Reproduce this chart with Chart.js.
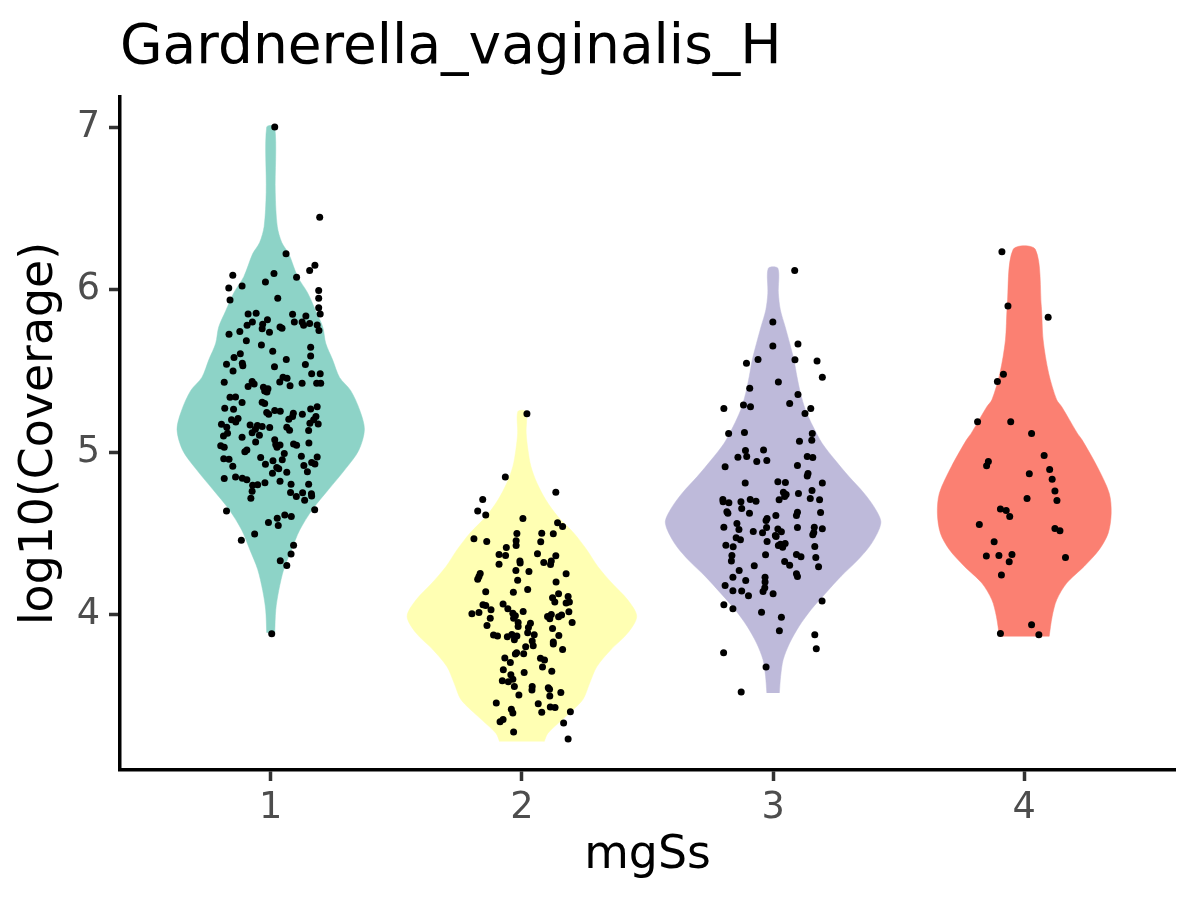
<!DOCTYPE html>
<html>
<head>
<meta charset="utf-8">
<script src="https://cdn.jsdelivr.net/npm/chart.js@4.4.1/dist/chart.umd.min.js"></script>
<style>
  html, body { margin: 0; padding: 0; background: #fff; }
  #wrap { width: 1200px; height: 900px; }
</style>
</head>
<body>
<div id="wrap"><canvas id="chart" width="1200" height="900"></canvas></div>
<script>
// chart text
const chartTitle = 'Gardnerella_vaginalis_H';
const xTitle = 'mgSs';
const yTitle = 'log10(Coverage)';
const groups = [1, 2, 3, 4];
const xTicks = [1, 2, 3, 4];
const yTicks = [4, 5, 6, 7];
const fillColors = ['#8DD3C7', '#FFFFB3', '#BEBADA', '#FB8072'];

// violin outlines: level on y, half width in x units
const v1Y = [3.89, 4.03, 4.15, 4.28, 4.40, 4.52, 4.65, 4.77, 4.89, 5.01, 5.14, 5.26, 5.38, 5.46, 5.57, 5.67, 5.77, 5.87, 5.98, 6.08, 6.22, 6.29, 6.39, 6.60, 7.00];
const v1W = [0.016, 0.020, 0.032, 0.052, 0.083, 0.115, 0.167, 0.230, 0.294, 0.350, 0.373, 0.354, 0.318, 0.274, 0.246, 0.219, 0.207, 0.179, 0.147, 0.107, 0.072, 0.044, 0.026, 0.018, 0.016];

const v2Y = [3.22, 3.27, 3.375, 3.477, 3.58, 3.68, 3.785, 3.887, 3.99, 4.092, 4.195, 4.297, 4.40, 4.502, 4.604, 4.707, 4.81, 4.912, 5.015, 5.117, 5.25];
const v2W = [0.089, 0.103, 0.175, 0.242, 0.270, 0.298, 0.354, 0.421, 0.457, 0.421, 0.358, 0.302, 0.258, 0.207, 0.143, 0.095, 0.060, 0.036, 0.024, 0.017, 0.016];

const v3Y = [3.519, 3.621, 3.723, 3.826, 3.928, 4.031, 4.133, 4.236, 4.338, 4.441, 4.564, 4.646, 4.748, 4.85, 4.953, 5.055, 5.158, 5.26, 5.363, 5.465, 5.567, 5.67, 5.772, 5.875, 5.978, 6.131];
const v3W = [0.025, 0.030, 0.040, 0.066, 0.103, 0.151, 0.209, 0.270, 0.338, 0.393, 0.429, 0.409, 0.362, 0.302, 0.246, 0.195, 0.159, 0.129, 0.109, 0.095, 0.083, 0.066, 0.048, 0.029, 0.021, 0.019];

const v4Y = [3.867, 3.99, 4.092, 4.195, 4.297, 4.40, 4.502, 4.625, 4.748, 4.912, 5.076, 5.117, 5.28, 5.322, 5.486, 5.69, 5.895, 6.248];
const v4W = [0.099, 0.111, 0.129, 0.169, 0.238, 0.298, 0.334, 0.346, 0.338, 0.290, 0.230, 0.211, 0.149, 0.129, 0.097, 0.075, 0.068, 0.044];

// jittered samples: offset from group centre and log10 coverage
const p1Dx = [0.016, 0.195, 0.061, 0.176, 0.155, -0.151, 0.013, -0.167, -0.114, -0.021, 0.103, 0.191, 0.191, -0.162, 0.028, 0.191, 0.197, -0.090, -0.058, 0.087, 0.140, 0.094, -0.073, -0.013, -0.094, -0.032, -0.034, 0.131, 0.125, 0.155, 0.185, 0.192, -0.123, -0.166, -0.005, 0.037, 0.045, -0.097, -0.037, 0.159, 0.008, 0.159, -0.146, -0.121, -0.113, -0.111, -0.176, 0.062, 0.015, 0.138,
  -0.150, 0.163, 0.197, 0.049, 0.065, -0.185, -0.074, -0.066, -0.090, -0.029, -0.011, -0.024, -0.015, 0.036, 0.077, 0.125, 0.183, 0.199,
  -0.162, -0.140, -0.114, -0.034, -0.024, -0.183, -0.148, -0.016, 0.016, 0.038, -0.008, 0.090, 0.126, 0.159, 0.185, 0.087, 0.072, 0.180, 0.171, 0.156, 0.189,
  -0.156, -0.139, -0.130, -0.196, -0.175, -0.188, -0.172, -0.082, -0.053, -0.061, -0.074, -0.045, -0.034, -0.004, 0.064, 0.075, 0.151, -0.114, -0.060, -0.199, -0.185, 0.016, 0.020, 0.037, 0.025, 0.091, 0.103, 0.152,
  -0.095, -0.103, -0.040, -0.021, 0.009, 0.046, 0.054, 0.122, 0.185, -0.187, -0.166, -0.151, 0.024, 0.032, 0.064, 0.007, 0.132, 0.163, 0.176, 0.146,
  -0.185, -0.140, -0.113, -0.095, -0.072, -0.052, -0.023, 0.037, 0.081, 0.151, -0.074, -0.079, 0.079, 0.102, 0.127, 0.162, 0.163, 0.135,
  -0.176, 0.175, 0.026, 0.056, 0.082, -0.009, 0.030, -0.064, -0.117, 0.091, 0.081, 0.038, 0.064, 0.004];
const p1Y = [7.000, 6.445, 6.221, 6.150, 6.117, 6.088, 6.100, 6.010, 6.023, 6.047, 6.076, 5.994, 5.947, 5.936, 5.947, 5.889, 5.850, 5.850, 5.855, 5.848, 5.838, 5.801, 5.801, 5.814, 5.781, 5.787, 5.760, 5.781, 5.801, 5.791, 5.783, 5.748, 5.742, 5.725, 5.738, 5.770, 5.762, 5.686, 5.660, 5.646, 5.621, 5.592, 5.582, 5.605, 5.547, 5.531, 5.541, 5.570, 5.525, 5.539,
  5.500, 5.482, 5.482, 5.461, 5.455, 5.430, 5.435, 5.420, 5.404, 5.400, 5.391, 5.377, 5.371, 5.432, 5.408, 5.424, 5.424, 5.424,
  5.338, 5.340, 5.305, 5.307, 5.299, 5.271, 5.264, 5.244, 5.256, 5.252, 5.234, 5.240, 5.234, 5.266, 5.279, 5.219, 5.203, 5.219, 5.199, 5.178, 5.174,
  5.199, 5.186, 5.207, 5.172, 5.154, 5.100, 5.117, 5.168, 5.164, 5.141, 5.119, 5.105, 5.158, 5.152, 5.154, 5.135, 5.133, 5.092, 5.062, 5.039, 5.031, 5.076, 5.047, 5.045, 5.031, 5.051, 5.043, 5.057,
  5.014, 5.002, 4.967, 4.926, 4.947, 4.953, 4.992, 4.975, 4.971, 4.959, 4.957, 4.914, 4.906, 4.898, 4.877, 4.871, 4.918, 4.937, 4.928, 4.879,
  4.838, 4.848, 4.840, 4.830, 4.797, 4.799, 4.812, 4.822, 4.803, 4.803, 4.760, 4.717, 4.752, 4.728, 4.750, 4.744, 4.730, 4.705,
  4.639, 4.646, 4.594, 4.613, 4.605, 4.568, 4.549, 4.496, 4.459, 4.428, 4.373, 4.332, 4.303, 3.883];

const p2Dx = [0.020, -0.066, 0.135, -0.156, -0.176, -0.144, 0.004, 0.142, 0.162, -0.191, -0.140, -0.020, 0.079, 0.125, -0.023, 0.075, -0.023, -0.062, -0.091, -0.065, 0.062, 0.135, -0.008, -0.007, 0.087, 0.117, 0.114, -0.091, -0.024, 0.028, 0.176, -0.166, -0.171, -0.176, -0.017, 0.136, 0.023, -0.034, -0.144, 0.146, 0.122, 0.184, 0.131, 0.176, 0.189, -0.155, -0.144, -0.075, -0.056, -0.123, -0.199, -0.171, -0.036, -0.026, 0.005, -0.033, 0.187, 0.117, 0.102, 0.111, 0.158, 0.146, -0.126, -0.139, -0.015, -0.015, 0.034, 0.026, 0.122, 0.200, -0.113, -0.097, -0.058, -0.040, -0.020, -0.030, 0.023, 0.049, 0.041, 0.045, 0.147, 0.125, 0.125, 0.015, -0.021, -0.026, 0.007, 0.162, -0.068, -0.046, 0.074, 0.090, 0.082, -0.074, -0.044, -0.036, -0.078, -0.054, 0.119, 0.009, -0.030, 0.041, 0.040, 0.105, 0.110, 0.111, 0.155, -0.012, -0.102, 0.065, -0.042, -0.036, 0.079, 0.113, 0.132, 0.193, -0.075, -0.087, -0.033, 0.166, 0.184];
const p2Y = [5.236, 4.848, 4.754, 4.709, 4.639, 4.613, 4.592, 4.566, 4.543, 4.467, 4.451, 4.500, 4.502, 4.498, 4.455, 4.449, 4.426, 4.414, 4.371, 4.365, 4.375, 4.363, 4.330, 4.318, 4.322, 4.330, 4.309, 4.311, 4.273, 4.266, 4.252, 4.254, 4.236, 4.219, 4.213, 4.201, 4.156, 4.139, 4.141, 4.129, 4.104, 4.113, 4.078, 4.072, 4.078, 4.061, 4.057, 4.066, 4.037, 4.031, 4.006, 4.014, 4.010, 3.994, 4.020, 3.979, 4.018, 4.002, 3.990, 3.975, 3.999, 3.988, 3.979, 3.934, 3.953, 3.928, 3.947, 3.922, 3.916, 3.953, 3.875, 3.869, 3.865, 3.879, 3.869, 3.846, 3.889, 3.877, 3.838, 3.809, 3.873, 3.832, 3.820, 3.803, 3.766, 3.758, 3.760, 3.787, 3.734, 3.707, 3.732, 3.721, 3.678, 3.662, 3.631, 3.604, 3.594, 3.588, 3.652, 3.645, 3.559, 3.559, 3.537, 3.551, 3.541, 3.500, 3.522, 3.506, 3.457, 3.453, 3.418, 3.395, 3.400, 3.432, 3.430, 3.404, 3.355, 3.342, 3.279, 3.334, 3.236];

const p3Dx = [0.086, -0.001, -0.001, 0.099, -0.060, -0.106, 0.087, 0.175, 0.196, 0.021, -0.093, 0.099, 0.066, -0.118, -0.090, -0.196, 0.150, 0.127, -0.177, -0.114, 0.156, 0.105, 0.154, -0.038, -0.110, -0.140, -0.105, -0.065, -0.025, 0.136, 0.158, -0.191, 0.097, 0.139, 0.136, -0.111, 0.019, 0.049, 0.196, 0.041, 0.052, 0.046, 0.101, 0.155, -0.200, -0.199, -0.176, -0.128, -0.091, -0.068, 0.024, 0.148, 0.185, -0.184, -0.180, -0.125, -0.094, 0.011, 0.097, 0.093, 0.189, -0.024, -0.028, -0.196, -0.144, -0.136, -0.079, -0.042, -0.026, 0.019, 0.033, 0.009, 0.097, 0.164, 0.196, 0.162, 0.158, -0.147, -0.130, -0.024, 0.012, 0.029, 0.048, 0.038, 0.021, -0.188, -0.159, 0.166, -0.030, -0.164, -0.166, 0.093, 0.111, 0.170, 0.046, 0.066, 0.181, -0.075, -0.135, -0.160, -0.109, -0.032, -0.032, -0.033, -0.040, -0.191, -0.160, -0.125, -0.098, 0.000, 0.093, 0.097, -0.196, -0.160, 0.195, -0.046, 0.033, 0.025, 0.166, 0.172, -0.197, -0.028, -0.127];
const p3Y = [6.117, 5.801, 5.654, 5.666, 5.570, 5.547, 5.568, 5.561, 5.461, 5.432, 5.393, 5.355, 5.299, 5.291, 5.279, 5.269, 5.269, 5.238, 5.115, 5.121, 5.115, 5.068, 5.074, 5.014, 5.010, 4.969, 4.973, 4.943, 4.949, 4.973, 4.967, 4.910, 4.918, 4.869, 4.854, 4.811, 4.818, 4.814, 4.811, 4.754, 4.740, 4.727, 4.746, 4.764, 4.709, 4.695, 4.689, 4.695, 4.709, 4.699, 4.707, 4.715, 4.707, 4.633, 4.625, 4.654, 4.625, 4.611, 4.631, 4.611, 4.629, 4.592, 4.580, 4.539, 4.561, 4.525, 4.512, 4.504, 4.537, 4.527, 4.510, 4.488, 4.537, 4.539, 4.529, 4.506, 4.492, 4.473, 4.461, 4.451, 4.482, 4.434, 4.439, 4.416, 4.426, 4.428, 4.418, 4.420, 4.369, 4.365, 4.330, 4.371, 4.357, 4.352, 4.328, 4.305, 4.295, 4.301, 4.273, 4.230, 4.211, 4.230, 4.201, 4.166, 4.143, 4.180, 4.148, 4.146, 4.117, 4.129, 4.252, 4.236, 4.062, 4.037, 4.084, 4.016, 3.984, 3.902, 3.877, 3.791, 3.766, 3.678, 3.525];

const p4Dx = [-0.089, -0.065, 0.095, -0.083, -0.107, -0.186, -0.054, 0.029, 0.079, -0.143, -0.150, 0.101, 0.020, 0.111, 0.122, 0.011, 0.130, -0.095, -0.072, -0.058, -0.179, 0.122, 0.142, -0.120, -0.151, -0.101, -0.049, 0.164, -0.060, -0.091, 0.029, -0.095, 0.058];
const p4Y = [6.233, 5.900, 5.830, 5.480, 5.435, 5.187, 5.188, 5.115, 4.980, 4.943, 4.916, 4.893, 4.867, 4.834, 4.762, 4.715, 4.703, 4.650, 4.641, 4.604, 4.555, 4.530, 4.516, 4.449, 4.361, 4.365, 4.371, 4.352, 4.326, 4.244, 3.939, 3.885, 3.877];

const violins = [[v1Y, v1W], [v2Y, v2W], [v3Y, v3W], [v4Y, v4W]];
const samples = [[p1Dx, p1Y], [p2Dx, p2Y], [p3Dx, p3Y], [p4Dx, p4Y]];

// right side going up, left side coming down -> closed outline
function outline(centre, ys, ws) {
    const right = ys.map((y, i) => ({x: centre + ws[i], y: y}));
    const left = ys.map((y, i) => ({x: centre - ws[i], y: y})).reverse();
    return right.concat(left);
}

const datasets = [];
groups.forEach((g, i) => {
    datasets.push({
        label: 'points ' + g,
        data: samples[i][0].map((d, k) => ({x: g + d, y: samples[i][1][k]})),
        backgroundColor: '#000000',
        borderColor: '#000000',
        borderWidth: 0,
        pointRadius: 3.5,
        order: 1
    });
});
groups.forEach((g, i) => {
    datasets.push({
        label: 'violin ' + g,
        data: outline(g, violins[i][0], violins[i][1]),
        showLine: true,
        fill: 'shape',
        backgroundColor: fillColors[i],
        borderColor: fillColors[i],
        borderWidth: 0.5,
        tension: 0.3,
        pointRadius: 0,
        order: 2
    });
});

Chart.defaults.font.family = "'DejaVu Sans', 'Liberation Sans', sans-serif";

const axisGrid = {
    display: true,
    drawOnChartArea: false,
    drawTicks: true,
    tickLength: 11,
    tickWidth: 3.5,
    tickColor: '#333333'
};

new Chart(document.getElementById('chart'), {
    type: 'scatter',
    data: {datasets: datasets},
    options: {
        responsive: false,
        animation: false,
        devicePixelRatio: 1,
        layout: {padding: {left: 0, right: 25, top: 0, bottom: 0}},
        plugins: {
            legend: {display: false},
            tooltip: {enabled: false},
            title: {
                display: true,
                text: chartTitle,
                align: 'start',
                fullSize: false,
                color: '#000000',
                font: {size: 55, weight: 'normal'},
                padding: {top: 16, bottom: 15}
            }
        },
        scales: {
            x: {
                type: 'linear',
                min: 0.4,
                max: 4.6,
                afterBuildTicks: s => { s.ticks = xTicks.map(v => ({value: v})); },
                afterFit: s => { s.height = 130; },
                ticks: {color: '#4d4d4d', font: {size: 36.7}, padding: 5},
                grid: axisGrid,
                border: {display: true, color: '#000000', width: 3.5},
                title: {
                    display: true,
                    text: xTitle,
                    color: '#000000',
                    font: {size: 45.8},
                    padding: {top: 0, bottom: 16}
                }
            },
            y: {
                type: 'linear',
                min: 3.045,
                max: 7.185,
                afterBuildTicks: s => { s.ticks = yTicks.map(v => ({value: v})); },
                afterFit: s => { s.width = 120; },
                ticks: {color: '#4d4d4d', font: {size: 36.7}, padding: 9},
                grid: axisGrid,
                border: {display: true, color: '#000000', width: 3.5},
                title: {
                    display: true,
                    text: yTitle,
                    color: '#000000',
                    font: {size: 45.8},
                    padding: {top: 13, bottom: 0}
                }
            }
        }
    }
});
</script>
</body>
</html>
